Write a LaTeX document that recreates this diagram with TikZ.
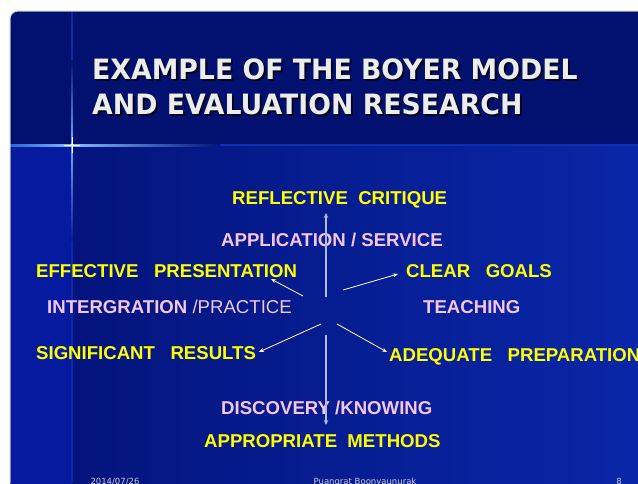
\documentclass[tikz,border=0pt]{standalone}
\usepackage{fontspec}
\usepackage{graphicx}
\setmainfont{Liberation Sans}
\newfontfamily\titlefont{DejaVu Sans}
\usetikzlibrary{arrows.meta}
\definecolor{topblue}{RGB}{2,17,112}
\definecolor{lowL}{RGB}{3,20,125}
\definecolor{lowR}{RGB}{10,40,172}
\definecolor{stripblue}{RGB}{6,26,160}
\definecolor{yel}{RGB}{255,255,0}
\definecolor{pinkl}{RGB}{245,198,245}
\definecolor{glow}{RGB}{50,140,255}
\definecolor{titlegray}{RGB}{236,236,236}
\definecolor{vline}{RGB}{176,186,240}
\definecolor{footc}{RGB}{205,205,220}
\definecolor{hline}{RGB}{16,48,176}
\definecolor{vfaint}{RGB}{14,40,170}
\begin{document}
\begin{tikzpicture}[x=1pt,y=-1pt,
  lab/.style={anchor=base west, inner sep=0pt, font=\bfseries\fontsize{18.6}{18.6}\selectfont},
  ylab/.style={lab, text=yel},
  plab/.style={lab, text=pinkl},
  diag/.style={draw=white, line width=0.8pt, -{Stealth[length=5pt,width=4pt]}},
  vert/.style={draw=vline, line width=1.7pt, -{Stealth[length=5pt,width=4.5pt]}},
  ttl/.style={anchor=base west, inner sep=0pt, font=\titlefont\bfseries\fontsize{28}{28}\selectfont},
  foot/.style={anchor=base, inner sep=0pt, text=footc, font=\titlefont\fontsize{8.5}{8.5}\selectfont}]
\path[use as bounding box] (0,0) rectangle (638,483);
\clip (0,0) rectangle (638,483);
\fill[white] (0,0) rectangle (638,483);
% slide
\begin{scope}
\path[clip, rounded corners=8pt] (10,11) rectangle (680,530);
\fill[topblue] (0,0) rectangle (680,145);
\shade[left color=lowL, right color=lowR] (72,145) rectangle (680,530);
\fill[stripblue] (0,145) rectangle (72,530);
% glow lines
\fill[hline] (0,144.4) rectangle (680,145.6);
\shade[left color=glow!70!topblue, right color=glow!60!white] (10,144) rectangle (72,146.3);
\shade[left color=glow!60!white, right color=lowL] (72,144) rectangle (220,146.3);
\fill[vfaint] (71.4,11) rectangle (72.6,483);
\shade[top color=topblue, bottom color=glow!70!white] (71.2,60) rectangle (72.8,145);
\shade[top color=glow!70!white, bottom color=stripblue] (71.2,145) rectangle (72.8,240);
\fill[white] (72,145) circle (1.6);
\draw[white, line width=0.6pt] (64,145) -- (80,145) (72,137) -- (72,153);
\end{scope}
\draw[gray!40, line width=1pt, rounded corners=8pt] (10,483) -- (10,11) -- (638,11);
% title
\node[ttl, text=black, opacity=0.75] (t1s) at (94,81) {\scalebox{0.955}[1]{EXAMPLE OF THE BOYER MODEL}};
\node[ttl, text=black, opacity=0.75] (t2s) at (94,116) {\scalebox{0.955}[1]{AND EVALUATION RESEARCH}};
\node[ttl, text=titlegray] (t1) at (92,79) {\scalebox{0.955}[1]{EXAMPLE OF THE BOYER MODEL}};
\node[ttl, text=titlegray] (t2) at (92,114) {\scalebox{0.955}[1]{AND EVALUATION RESEARCH}};
% labels
\node[ylab] (ref) at (232,204) {REFLECTIVE\ \ CRITIQUE};
\node[plab] (app) at (221,246) {APPLICATION / SERVICE};
\node[ylab] (eff) at (36,277) {EFFECTIVE\ \ \ PRESENTATION};
\node[ylab] (clear) at (406,277) {CLEAR\ \ \ GOALS};
\node[plab] (integ) at (47,313) {INTERGRATION \mdseries/PRACTICE};
\node[plab] (teach) at (423,313) {TEACHING};
\node[ylab] (sig) at (36,359) {SIGNIFICANT\ \ \ RESULTS};
\node[ylab] (adeq) at (389,361) {ADEQUATE\ \ \ PREPARATION};
\node[plab] (disc) at (221,414) {DISCOVERY /KNOWING};
\node[ylab] (appr) at (204,447) {APPROPRIATE\ \ METHODS};
% footer
\node[foot] (date) at (115,484) {2014/07/26};
\node[foot] (auth) at (365,484) {Puangrat Boonyaunurak};
\node[foot] (num) at (619,484) {8};
% connectors
\coordinate (cu) at (326,297);
\coordinate (cd) at (326,335);
\coordinate (cul) at (303,296);
\coordinate (cur) at (343,290);
\coordinate (cdl) at (321,324);
\coordinate (cdr) at (337,324);
\coordinate (eu) at (326,213);
\coordinate (ed) at (326,425);
\coordinate (eul) at (271,279);
\coordinate (eur) at (398,274);
\coordinate (edl) at (259,352);
\coordinate (edr) at (387,352);
\draw[vert] (cu) -- (eu);
\draw[vert] (cd) -- (ed);
\draw[diag] (cul) -- (eul);
\draw[diag] (cur) -- (eur);
\draw[diag] (cdl) -- (edl);
\draw[diag] (cdr) -- (edr);
\end{tikzpicture}
\end{document}
